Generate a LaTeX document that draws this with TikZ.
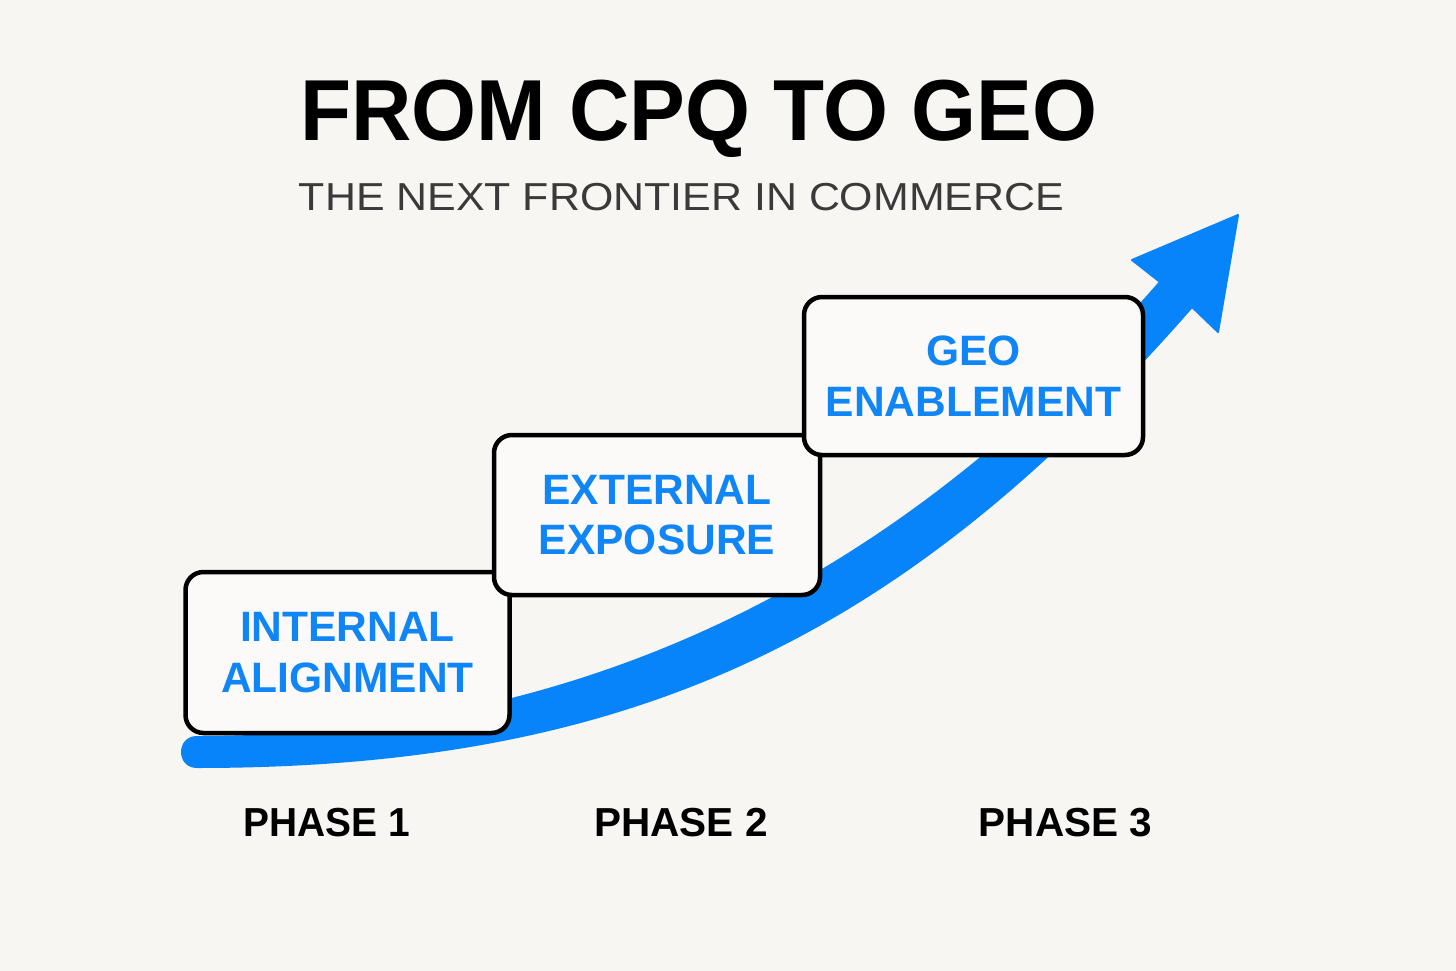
\documentclass[tikz,border=0pt]{standalone}
\usepackage{fontspec}
\setmainfont{Liberation Sans}
\usepackage{graphicx}
\definecolor{bg}{HTML}{F7F6F3}
\definecolor{boxfill}{HTML}{FBFAF8}
\definecolor{arrowblue}{RGB}{8,132,250}
\definecolor{textblue}{RGB}{16,133,246}
\definecolor{subgray}{HTML}{3A3A3A}
\begin{document}
\begin{tikzpicture}[x=1pt,y=-1pt,
  stepbox/.style={draw=black, line width=4.5pt, rounded corners=18pt, fill=boxfill,
    align=center, text=textblue, inner sep=0pt,
    font=\fontsize{42.5}{50.5}\selectfont\bfseries},
  phase/.style={anchor=base, font=\fontsize{40.5}{48}\selectfont\bfseries}]
\fill[bg] (0,0) rectangle (1456,971);
\useasboundingbox (0,0) rectangle (1456,971);

\node[anchor=base, font=\fontsize{86.6}{90}\selectfont\bfseries] (title) at (699,140)
  {\scalebox{0.965}[1]{FROM CPQ TO GEO}};
\node[anchor=base, text=subgray, font=\fontsize{39}{44}\selectfont] (subtitle) at (681.5,210)
  {\scalebox{1.1}[1]{THE NEXT FRONTIER IN COMMERCE}};

% rising arrow
\filldraw[arrowblue, line width=2pt, line join=round]
  (197,767) .. controls (177,767) and (177,737) .. (197,737)
  .. controls (597,737) and (910,569.5) .. (1160,282)
  -- (1132,260) -- (1238,215) -- (1218,332) -- (1192,307)
  .. controls (912,626) and (647,767) .. (197,767)
  -- cycle;

\node[stepbox, minimum width=324pt, minimum height=161pt] (p1) at (347.5,652.5) {INTERNAL\\ALIGNMENT};
\node[stepbox, minimum width=326pt, minimum height=160pt] (p2) at (657,515) {EXTERNAL\\EXPOSURE};
\node[stepbox, minimum width=339pt, minimum height=158pt] (p3) at (973.5,376) {GEO\\ENABLEMENT};

\node[phase] (l1) at (327,836) {\scalebox{0.96}[1]{PHASE 1}};
\node[phase] (l2) at (681,836) {PHASE 2};
\node[phase] (l3) at (1065.5,836) {PHASE 3};
\end{tikzpicture}
\end{document}
